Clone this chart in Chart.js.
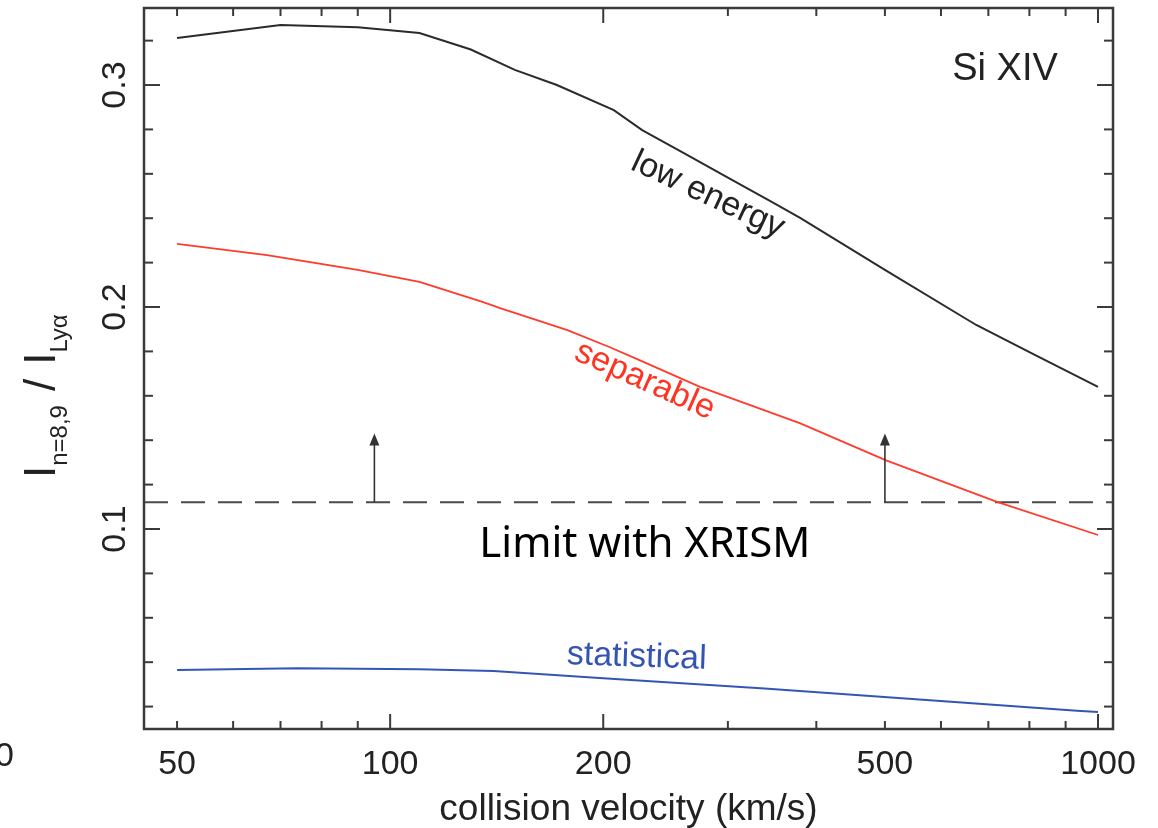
<!DOCTYPE html>
<html>
  <head>
    <meta charset="utf-8" />
    <title>Si XIV</title>
    <script src="https://cdn.jsdelivr.net/npm/chart.js@4"></script>
    <style>
      body { margin: 0; background: #fff; }
      #wrap { width: 1158px; height: 828px; }
    </style>
  </head>
  <body>
    <div id="wrap"><canvas id="chart" width="1158" height="828"></canvas></div>

    <script>
      // curves (velocity in km/s, ratio)
      const lowEnergyV = [50, 70, 90, 110, 130, 150, 172, 207, 227, 260, 300, 348, 380, 500, 673, 800, 1000];
      const lowEnergyR = [0.3212, 0.327, 0.326, 0.3234, 0.316, 0.3068, 0.300, 0.2887, 0.2797, 0.2693, 0.2583, 0.2469, 0.240, 0.2167, 0.1919, 0.1797, 0.164];

      const separableV = [50, 67, 90, 110, 135, 143, 178, 204, 225, 274, 379, 501, 720, 1000];
      const separableR = [0.2284, 0.2234, 0.2167, 0.2113, 0.2023, 0.1995, 0.1896, 0.182, 0.1761, 0.164, 0.1477, 0.131, 0.1122, 0.0973];

      const statisticalV = [50, 74, 110, 140, 200, 338, 620, 934, 1000];
      const statisticalR = [0.0365, 0.0373, 0.0368, 0.036, 0.0328, 0.0282, 0.0222, 0.0181, 0.0176];

      // XRISM detection limit and the two arrows on it
      const xrismLimit = 0.112;
      const arrowV = [95, 500];
      const arrowTop = 0.143;

      // axes
      const xMin = 44.9, xMax = 1050;
      const yMin = 0.0099, yMax = 0.3347;
      const xTicks = [50, 60, 70, 80, 90, 100, 200, 300, 400, 500, 600, 700, 800, 900, 1000];
      const xLongTicks = [100, 200, 1000];
      const xLabelTicks = [50, 100, 200, 500, 1000];
      const yTicks = [0.02, 0.04, 0.06, 0.08, 0.1, 0.12, 0.14, 0.16, 0.18, 0.2, 0.22, 0.24, 0.26, 0.28, 0.3, 0.32];
      const yLabelTicks = [0.1, 0.2, 0.3];
      const yLabels = ["0.1", "0.2", "0.3"];

      const FONT = "'Liberation Sans', Arial, Helvetica, sans-serif";
      const INK = "#222";

      const toPoints = (xs, ys) => xs.map((v, i) => ({ x: v, y: ys[i] }));

      // text placed on the plot (data coordinates)
      const notes = [
        { text: "low energy", v: 281, r: 0.2505, angle: 25, size: 34, color: "#222" },
        { text: "separable", v: 229, r: 0.1668, angle: 24, size: 34, color: "#ff3322" },
        { text: "statistical", v: 223, r: 0.0423, angle: 2, size: 34, color: "#3454b4" },
        { text: "Si XIV", v: 739, r: 0.3072, angle: 0, size: 38, color: "#222" },
        { text: "Limit with XRISM", v: 229, r: 0.0928, angle: 0, size: 42, color: "#000", family: "'Noto Sans', sans-serif" },
      ];

      function line(ctx, x1, y1, x2, y2) {
        ctx.beginPath();
        ctx.moveTo(x1, y1);
        ctx.lineTo(x2, y2);
        ctx.stroke();
      }

      function drawYTitle(ctx) {
        const parts = [
          ["I", 44, 0, 0],
          ["n=8,9", 24, 12, 0],
          ["/", 44, 0, 14],
          ["I", 44, 0, 14],
          ["Lyα", 24, 12, 0],
        ];
        ctx.save();
        ctx.translate(55, 478);
        ctx.rotate(-Math.PI / 2);
        ctx.fillStyle = INK;
        ctx.textAlign = "left";
        ctx.textBaseline = "alphabetic";
        let pos = 0;
        parts.forEach(([t, size, dy, gap]) => {
          pos += gap;
          ctx.font = `${size}px ${FONT}`;
          ctx.fillText(t, pos, dy);
          pos += ctx.measureText(t).width;
        });
        ctx.restore();
      }

      const overlay = {
        id: "overlay",
        afterDatasetsDraw(chart) {
          const { ctx, chartArea: a, scales: { x, y } } = chart;
          ctx.save();

          // arrows above the limit
          ctx.strokeStyle = "#333";
          ctx.fillStyle = "#333";
          ctx.lineWidth = 1.6;
          arrowV.forEach((v) => {
            const px = x.getPixelForValue(v);
            const y0 = y.getPixelForValue(xrismLimit);
            const y1 = y.getPixelForValue(arrowTop);
            line(ctx, px, y0, px, y1 + 8);
            ctx.beginPath();
            ctx.moveTo(px, y1);
            ctx.lineTo(px - 5, y1 + 12);
            ctx.lineTo(px + 5, y1 + 12);
            ctx.closePath();
            ctx.fill();
          });

          // frame and inward ticks on all four sides
          ctx.strokeStyle = "#3a3a3a";
          ctx.lineWidth = 2.5;
          ctx.strokeRect(a.left, a.top, a.right - a.left, a.bottom - a.top);
          ctx.lineWidth = 2;
          xTicks.forEach((v) => {
            const px = x.getPixelForValue(v);
            const len = xLongTicks.includes(v) ? 15 : 8;
            line(ctx, px, a.bottom, px, a.bottom - len);
            line(ctx, px, a.top, px, a.top + len);
          });
          yTicks.forEach((v) => {
            const py = y.getPixelForValue(v);
            const len = yLabelTicks.some((t) => Math.abs(t - v) < 1e-9) ? 16 : 9;
            line(ctx, a.left, py, a.left + len, py);
            line(ctx, a.right, py, a.right - len, py);
          });

          // rotated y tick labels
          ctx.fillStyle = INK;
          ctx.font = `34px ${FONT}`;
          ctx.textAlign = "center";
          ctx.textBaseline = "alphabetic";
          yLabelTicks.forEach((v, i) => {
            ctx.save();
            ctx.translate(125, y.getPixelForValue(v));
            ctx.rotate(-Math.PI / 2);
            ctx.fillText(yLabels[i], 0, 0);
            ctx.restore();
          });

          // clipped label of the neighbouring panel
          ctx.textAlign = "right";
          ctx.textBaseline = "middle";
          ctx.fillText("0", 14, 757);

          drawYTitle(ctx);

          // curve names and labels
          notes.forEach((n) => {
            ctx.save();
            ctx.translate(x.getPixelForValue(n.v), y.getPixelForValue(n.r));
            ctx.rotate((n.angle * Math.PI) / 180);
            ctx.font = `${n.size}px ${n.family || FONT}`;
            ctx.fillStyle = n.color;
            ctx.textAlign = "center";
            ctx.textBaseline = "middle";
            ctx.fillText(n.text, 0, 0);
            ctx.restore();
          });

          ctx.restore();
        },
      };

      const ctx = document.getElementById("chart").getContext("2d");
      new Chart(ctx, {
        type: "line",
        data: {
          datasets: [
            {
              label: "low energy",
              data: toPoints(lowEnergyV, lowEnergyR),
              borderColor: "#2b2b2b",
              borderWidth: 2,
            },
            {
              label: "separable",
              data: toPoints(separableV, separableR),
              borderColor: "#ff3b2b",
              borderWidth: 1.8,
            },
            {
              label: "statistical",
              data: toPoints(statisticalV, statisticalR),
              borderColor: "#3555b5",
              borderWidth: 2,
            },
            {
              label: "XRISM limit",
              data: [
                { x: xMin, y: xrismLimit },
                { x: xMax, y: xrismLimit },
              ],
              borderColor: "#4a4a4a",
              borderWidth: 2,
              borderDash: [24, 13],
            },
          ],
        },
        options: {
          responsive: false,
          animation: false,
          layout: { padding: { left: 144, right: 45, top: 8, bottom: 0 } },
          elements: { point: { radius: 0 }, line: { tension: 0 } },
          plugins: { legend: { display: false }, tooltip: { enabled: false } },
          scales: {
            x: {
              type: "logarithmic",
              min: xMin,
              max: xMax,
              afterBuildTicks: (s) => {
                s.ticks = xLabelTicks.map((v) => ({ value: v }));
              },
              afterFit: (s) => {
                s.height = 99;
              },
              ticks: {
                autoSkip: false,
                maxRotation: 0,
                padding: 7,
                color: INK,
                font: { family: FONT, size: 34 },
                callback: (v) => String(v),
              },
              grid: { display: false },
              border: { display: false },
              title: {
                display: true,
                text: "collision velocity (km/s)",
                color: INK,
                padding: 0,
                font: { family: FONT, size: 37, lineHeight: 1 },
              },
            },
            y: {
              type: "linear",
              min: yMin,
              max: yMax,
              display: false,
            },
          },
        },
        plugins: [overlay],
      });
    </script>
  </body>
</html>
